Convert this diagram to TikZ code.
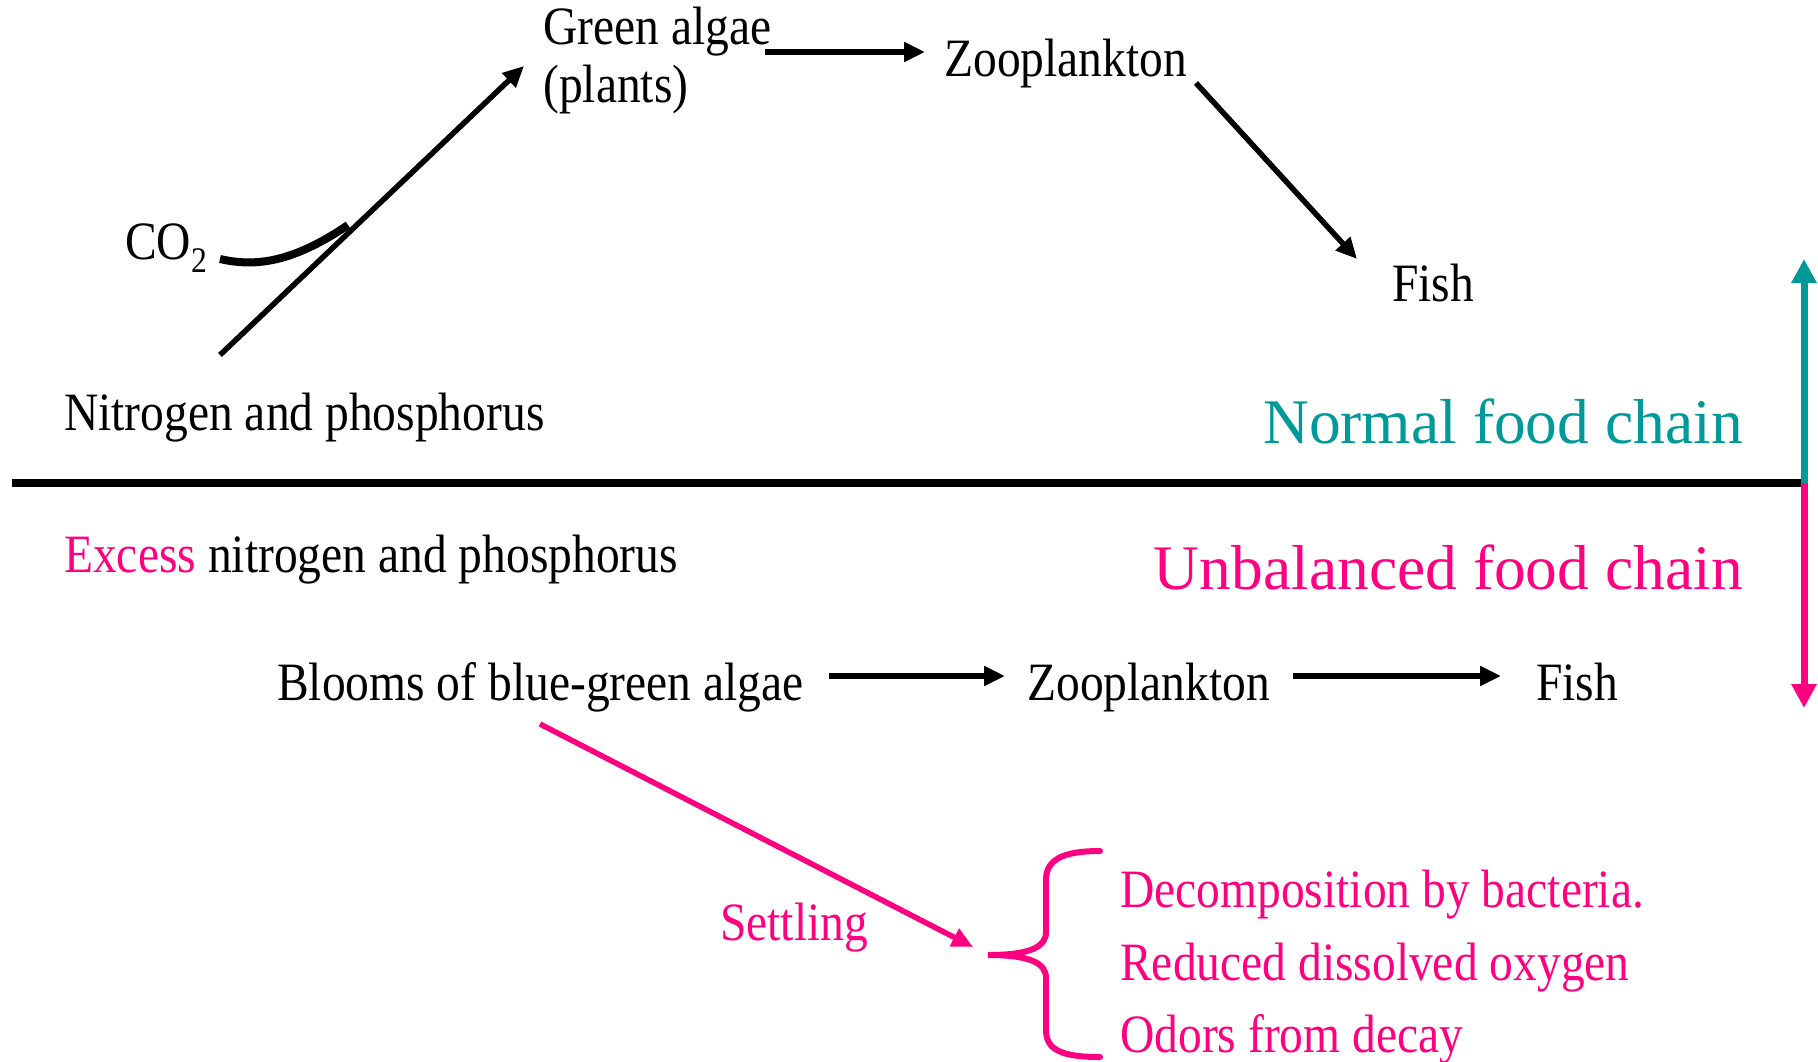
\documentclass[tikz,border=0pt]{standalone}
\usepackage{fontspec}
\setmainfont{Liberation Serif}[FakeStretch=0.88]
\newfontfamily\bigfont{Liberation Serif}
\usetikzlibrary{arrows.meta,calc}
\definecolor{pinkc}{RGB}{255,0,128}
\definecolor{tealc}{RGB}{0,153,153}
\begin{document}
\begin{tikzpicture}[x=1pt,y=-1pt,
  txt/.style={inner sep=0pt, anchor=base west, font=\fontsize{54}{56}\selectfont},
  bigtxt/.style={inner sep=0pt, anchor=base east, font=\bigfont\fontsize{63.5}{64}\selectfont},
  blkarrow/.style={line width=5.5pt, -{Triangle[length=21pt,width=19pt]}},
  pinkarrow/.style={pinkc, line width=5.5pt, -{Triangle[length=21pt,width=19pt]}},
  sidearrow/.style={line width=7pt, -{Triangle[length=24pt,width=24pt]}}]
\useasboundingbox (0,0) rectangle (1818,1061);

% ---------- top: normal food chain ----------
\node[txt] (green)  at (543,44) {Green algae};
\node[txt] (plants) at (543,102) {(plants)};
\node[txt] (zoo1)   at (944,76) {Zooplankton};
\node[txt] (fish1)  at (1392,301) {Fish};
\node[txt] (co2)    at (125,259) {CO\raisebox{-13pt}{\fontsize{36}{36}\selectfont 2}};
\node[txt] (np)     at (64,430) {Nitrogen and phosphorus};
\node[bigtxt, text=tealc] (normal) at (1743,443) {Normal food chain};

\coordinate (gaS) at (765,52);
\coordinate (gaE) at (925,52);
\coordinate (zfS) at (1196,83);
\coordinate (zfE) at (1357,259);
\coordinate (npS) at (220,355);
\coordinate (npE) at (524,66);
\coordinate (coS) at (220,259);
\coordinate (coE) at (348,225);

\draw[blkarrow] (gaS) -- (gaE);
\draw[blkarrow] (zfS) -- (zfE);
\draw[blkarrow] (npS) -- (npE);
\draw[line width=8pt] (coS) .. controls (255,267) and (292,263) .. (coE);

% ---------- separator and side arrows ----------
\coordinate (sepL) at (12,483);
\coordinate (sepR) at (1804,483);
\coordinate (upT) at (1804,259);
\coordinate (dnT) at (1804,708);
\draw[line width=8pt] (sepL) -- (sepR);
\draw[sidearrow, tealc] (sepR) -- (upT);
\draw[sidearrow, pinkc] (sepR) -- (dnT);

% ---------- bottom: unbalanced food chain ----------
\node[bigtxt, text=pinkc] (unbal) at (1743,589) {Unbalanced food chain};
\node[txt] (excess) at (64,572) {\textcolor{pinkc}{Excess} nitrogen and phosphorus};
\node[txt] (blooms) at (277,700) {Blooms of blue-green algae};
\node[txt] (zoo2)   at (1027,700) {Zooplankton};
\node[txt] (fish2)  at (1536,700) {Fish};
\node[txt, text=pinkc] (settling) at (720,940) {Settling};
\node[txt, text=pinkc] (dec) at (1120,907) {Decomposition by bacteria.};
\node[txt, text=pinkc] (red) at (1120,980) {Reduced dissolved oxygen};
\node[txt, text=pinkc] (odo) at (1120,1052) {Odors from decay};

\coordinate (bzS) at (829,676);
\coordinate (bzE) at (1005,676);
\coordinate (zfS2) at (1293,676);
\coordinate (zfE2) at (1501,676);
\coordinate (stS) at (540,724);
\coordinate (stE) at (973,947);

\draw[blkarrow] (bzS) -- (bzE);
\draw[blkarrow] (zfS2) -- (zfE2);
\draw[pinkarrow] (stS) -- (stE);

% brace
\coordinate (brTop) at (1100,851);
\coordinate (brTip) at (988,955);
\coordinate (brBot) at (1100,1057);
\draw[pinkc, line width=6pt, line cap=round]
  (brTop) .. controls (1062,851) and (1046,860) .. (1046,880)
  -- (1046,932) .. controls (1046,947) and (1030,955) .. (brTip)
  .. controls (1030,955) and (1046,963) .. (1046,978)
  -- (1046,1030) .. controls (1046,1050) and (1062,1057) .. (brBot);
\end{tikzpicture}
\end{document}
